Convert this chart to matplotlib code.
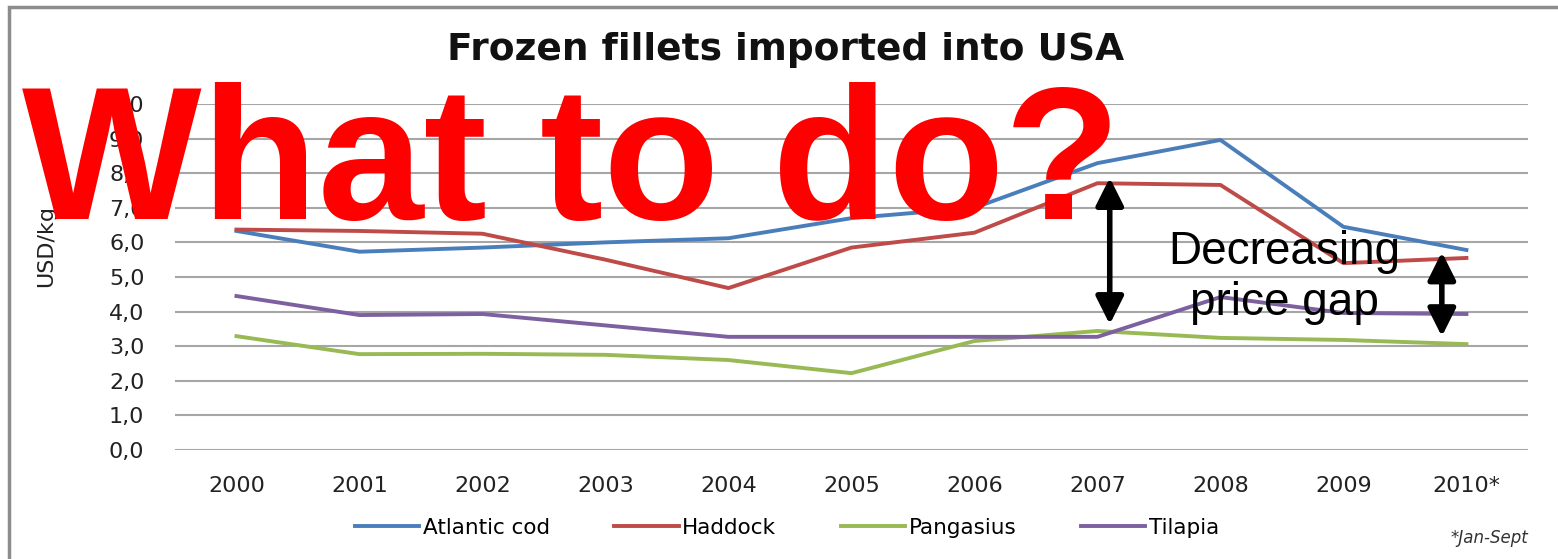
import matplotlib
matplotlib.use("Agg")
import matplotlib.pyplot as plt
from matplotlib.patches import Rectangle

years = ["2000", "2001", "2002", "2003", "2004", "2005", "2006", "2007", "2008", "2009", "2010*"]
atlantic_cod = [6.33, 5.73, 5.85, 6.0, 6.12, 6.7, 7.0, 8.29, 8.96, 6.45, 5.78]
haddock = [6.37, 6.33, 6.25, 5.5, 4.68, 5.85, 6.28, 7.71, 7.66, 5.4, 5.55]
pangasius = [3.29, 2.77, 2.78, 2.75, 2.6, 2.22, 3.15, 3.44, 3.24, 3.18, 3.06]
tilapia = [4.45, 3.9, 3.93, 3.6, 3.27, 3.27, 3.27, 3.27, 4.42, 3.96, 3.93]
yticks = [0, 1, 2, 3, 4, 5, 6, 7, 8, 9, 10]
ytick_labels = ["0,0", "1,0", "2,0", "3,0", "4,0", "5,0", "6,0", "7,0", "8,0", "9,0", "10,0"]

fig = plt.figure(figsize=(15.58, 5.59), dpi=100)
ax = fig.add_axes([0.1123, 0.195, 0.8684, 0.619])

# outer chart frame (left and top edges visible)
fig.patches.append(Rectangle((9 / 1558, -0.1), 1.2, 1 - 7 / 559 + 0.1, transform=fig.transFigure,
                             fill=False, edgecolor="#8c8c8c", lw=2.5))

x = list(range(len(years)))
l1, = ax.plot(x, atlantic_cod, color="#4A7EBB", lw=2.8, label="Atlantic cod")
l2, = ax.plot(x, haddock, color="#BE4B48", lw=2.8, label="Haddock")
l3, = ax.plot(x, pangasius, color="#98B954", lw=2.8, label="Pangasius")
l4, = ax.plot(x, tilapia, color="#7D60A0", lw=2.8, label="Tilapia")

ax.set_xlim(-0.5, 10.5)
ax.set_ylim(0, 10)
ax.set_yticks(yticks)
ax.set_yticklabels(ytick_labels)
ax.set_xticks(x)
ax.set_xticklabels(years)
ax.grid(axis="y", color="#a6a6a6", lw=1.5)
ax.set_axisbelow(True)
for s in ax.spines.values():
    s.set_visible(False)
ax.tick_params(axis="both", length=0, labelsize=16, colors="#222222")
ax.tick_params(axis="y", pad=22)
ax.tick_params(axis="x", pad=19)
ax.set_ylabel("USD/kg", fontsize=16, color="#222222")
ax.yaxis.set_label_coords(-0.088, 0.59)

fig.text(0.504, 0.91, "Frozen fillets imported into USA", ha="center", va="center",
         fontsize=27, fontweight="bold", color="#111111")

fig.legend(handles=[l1, l2, l3, l4], loc="center", bbox_to_anchor=(0.505, 1 - 528 / 559),
           ncol=4, frameon=False, fontsize=15.5, handlelength=3.0, handletextpad=0.15,
           columnspacing=3.0)
fig.text(0.981, 1 - 538 / 559, "*Jan-Sept", ha="right", va="center", fontsize=12,
         style="italic", color="#333333")

# arrows showing the price gap
ax.annotate("", xy=(7.1, 3.55), xytext=(7.1, 7.95),
            arrowprops=dict(arrowstyle="<|-|>", color="black", lw=4, mutation_scale=42))
ax.annotate("", xy=(9.8, 3.2), xytext=(9.8, 5.8),
            arrowprops=dict(arrowstyle="<|-|>", color="black", lw=4, mutation_scale=42))
ax.text(8.52, 4.98, "Decreasing\nprice gap", ha="center", va="center", fontsize=33,
        family="Liberation Sans", linespacing=1.22, color="black")

fig.text(22 / 1558, 1 - 219 / 559, "What to do?", ha="left", va="baseline",
         fontsize=137, fontweight="bold", family="Liberation Sans", color="#FF0000")

fig.savefig("out.png", dpi=100)
